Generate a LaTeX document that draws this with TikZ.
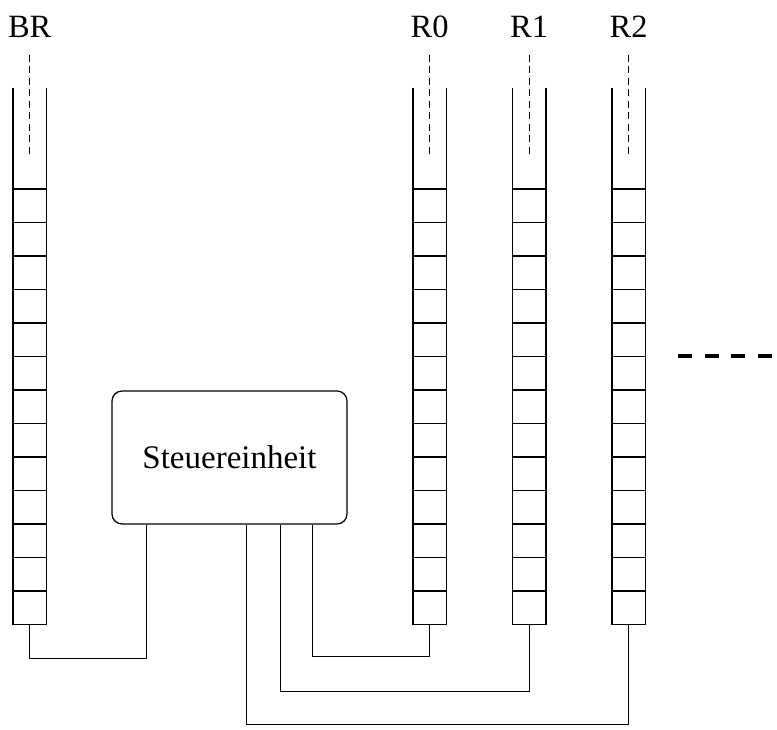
\documentclass[tikz,border=0pt]{standalone}
\usepackage{fontspec}
\setmainfont{Liberation Serif}
\begin{document}
\begin{tikzpicture}[x=1pt,y=-1pt,
  cell/.style={draw, line width=1.3pt, minimum width=33.5pt, minimum height=33.5pt, inner sep=0pt, outer sep=0pt},
  wall/.style={line width=1.3pt},
  reglabel/.style={font=\fontsize{32.5}{38}\selectfont, anchor=base, inner sep=0pt},
  ptr/.style={dash pattern=on 7pt off 4.5pt, line width=1pt},
  wire/.style={line width=1pt},
  ctrlbox/.style={draw, line width=1.2pt, rounded corners=10pt, minimum width=235pt, minimum height=133pt, font=\fontsize{33}{38}\selectfont, inner sep=0pt},
  more/.style={line width=3.5pt, dash pattern=on 14pt off 12.7pt}
]
\useasboundingbox (0,0) rectangle (777,730);

\foreach \n/\x in {BR/29.7, R0/429.7, R1/529.2, R2/628.7} {
  \node[reglabel] (\n-lab) at (\x,38) {\n};
  \draw[ptr] (\x,55) -- (\x,155);
  \draw[wall] (\x-16.75,88) -- (\x-16.75,189);
  \draw[wall] (\x+16.75,88) -- (\x+16.75,189);
  \foreach \k in {1,...,13} {
    \node[cell] (\n-\k) at (\x, {189+33.5*(\k-0.5)}) {};
  }
}

\node[ctrlbox] (ctrl) at (229.5,457.5) {Steuereinheit};

\coordinate (bBR) at (146,658);
\draw[wire] (BR-13.south) |- (bBR) -- (bBR |- ctrl.south);
\coordinate (b0) at (312.7,656.7);
\draw[wire] (R0-13.south) |- (b0) -- (b0 |- ctrl.south);
\coordinate (b1) at (280,691);
\draw[wire] (R1-13.south) |- (b1) -- (b1 |- ctrl.south);
\coordinate (b2) at (246,724);
\draw[wire] (R2-13.south) |- (b2) -- (b2 |- ctrl.south);

\draw[more] (678,356) -- (777,356);
\end{tikzpicture}
\end{document}
